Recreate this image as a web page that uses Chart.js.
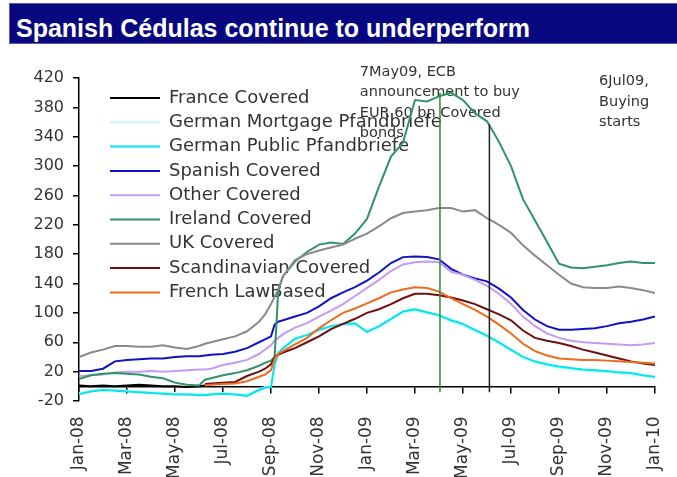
<!DOCTYPE html>
<html>
<head>
<meta charset="utf-8">
<script src="https://cdn.jsdelivr.net/npm/chart.js@4.4.1/dist/chart.umd.min.js"></script>
<style>
html,body{margin:0;padding:0;background:#fff;}
#wrap{position:relative;width:677px;height:477px;overflow:hidden;background:#fff;}
canvas{position:absolute;left:0;top:0;}
#bar{position:absolute;left:9px;top:3px;width:668px;height:41px;background:#07077f;box-sizing:border-box;border:1px solid #5b5ba8;border-right:none;}
#bar span{position:absolute;left:6px;top:10px;line-height:25px;color:#fff;font:bold 25px "Liberation Sans",Arial,sans-serif;white-space:nowrap;}
</style>
</head>
<body>
<div id="wrap">
  <canvas id="c" width="677" height="477"></canvas>
  <div id="bar"><span>Spanish Cédulas continue to underperform</span></div>
</div>
<script>
// Time positions in months since Jan-08
const months = [0,0.5,1,1.5,2,2.5,3,3.5,4,4.5,5,5.25,5.5,6,6.5,7,7.5,7.75,8,8.15,8.3,8.5,9,9.5,10,10.5,11,11.5,12,12.5,13,13.5,14,14.5,15,15.5,16,16.5,17,17.5,18,18.5,19,19.5,20,20.5,21,21.5,22,22.5,23,23.5,24];
const tickLabels = ['Jan-08','Mar-08','May-08','Jul-08','Sep-08','Nov-08','Jan-09','Mar-09','May-09','Jul-09','Sep-09','Nov-09','Jan-10'];

const N = null;
const franceCovered = [1,0,1,0,1,2,1,0,0,-1,0,1,N,N,N,N,N,N,N,N,N,N,N,N,N,N,N,N,N,N,N,N,N,N,N,N,N,N,N,N,N,N,N,N,N,N,N,N,N,N,N,N,N];
const germanMortgage = [-9,-6,-4,-5,-6,-7,-8,-9,-9,-10,-10,-10,-10,-9,-10,-11,-4,-1,0,28,43,50,63,69,76,80,83,84,76,80,90,100,103,99,95,88,83,75,67,58,48,39,32,28,25,23,21,20,19,17,16,14,12];
const germanPublic = [-11,-7,-5,-6,-7,-8,-9,-10,-11,-11,-12,-12,-11,-10,-11,-13,-5,-2,-1,30,45,52,65,70,77,82,85,86,74,82,92,102,105,101,97,90,85,77,69,60,50,40,34,30,27,25,23,22,21,19,18,15,13];
const spanishCovered = [21,21,24,34,36,37,38,38,40,41,41,42,43,44,47,52,60,64,68,84,88,90,95,100,109,120,128,135,144,155,168,176,177,176,173,160,152,147,143,133,121,104,91,82,77,77,78,79,82,86,88,91,95];
const otherCovered = [14,15,16,19,20,20,21,20,21,22,23,23,24,29,32,36,44,50,56,62,66,71,80,86,95,103,112,123,134,145,157,166,169,170,169,156,152,145,137,126,112,95,82,72,66,62,60,59,58,57,56,57,59];
const irelandCovered = [10,15,17,18,17,16,13,11,5,2,1,9,11,15,18,22,28,32,35,40,130,150,170,183,193,196,194,208,228,272,313,332,390,388,395,400,390,372,361,333,300,255,226,197,167,162,161,163,165,168,170,168,168];
const ukCovered = [40,46,50,55,55,54,54,56,53,51,55,58,60,64,68,75,88,98,112,122,132,150,172,180,185,189,193,201,208,218,229,236,238,240,243,243,238,240,229,220,209,192,178,165,152,140,135,134,134,136,134,131,127];
const scandinavianCovered = [N,N,N,N,N,N,N,N,N,N,N,3,4,5,6,14,20,24,30,40,43,46,52,60,68,78,85,92,100,105,112,120,126,126,124,121,117,112,105,98,90,76,66,62,59,55,50,46,42,38,34,31,29];
const frenchLawBased = [N,N,N,N,N,N,N,N,N,N,N,1,2,3,4,7,13,16,22,38,44,48,57,66,79,90,100,106,113,120,128,132,135,134,129,120,112,104,95,84,72,58,48,42,38,37,36,36,35,34,33,32,31];

// Event markers (months since Jan-08) and the heights the marker lines reach
const eventMonths = [15.04, 17.1];
const eventTops = [400, 357];
const eventBase = -8;

const seriesDefs = [
  {label:'France Covered', data:franceCovered, color:'#000000'},
  {label:'German Mortgage Pfandbriefe', data:germanMortgage, color:'#c2f6f6'},
  {label:'German Public Pfandbriefe', data:germanPublic, color:'#00e4ee'},
  {label:'Spanish Covered', data:spanishCovered, color:'#1212c4'},
  {label:'Other Covered', data:otherCovered, color:'#c29cf0'},
  {label:'Ireland Covered', data:irelandCovered, color:'#2f9465'},
  {label:'UK Covered', data:ukCovered, color:'#8a8a8a'},
  {label:'Scandinavian Covered', data:scandinavianCovered, color:'#6e1010'},
  {label:'French LawBased', data:frenchLawBased, color:'#ee6a1c'}
];
const eventColors = ['#2e8b3c', '#222222'];

const notes = [
  {x:11.7, y:428.5, lines:['7May09, ECB','announcement to buy','EUR 60 bn Covered','bonds']},
  {x:21.67, y:415, lines:['6Jul09,','Buying','starts']}
];

const toPts = vals => months.map((m,i)=>({x:m, y:vals[i]}));
const datasets = seriesDefs.map((s,i)=>({
  label:s.label, data:toPts(s.data), borderColor:s.color, backgroundColor:s.color,
  borderWidth:2, pointRadius:0, tension:0, spanGaps:false, order:seriesDefs.length - i
}));
eventMonths.forEach((m,i)=>{
  datasets.push({label:'', data:[{x:m,y:eventBase},{x:m,y:eventTops[i]}], borderColor:eventColors[i],
    backgroundColor:eventColors[i], borderWidth:1.5, pointRadius:0, order:0});
});

const legendPlacer = {
  id:'legendPlacer',
  afterLayout(chart){
    const lg = chart.legend, ca = chart.chartArea;
    if(!lg) return;
    lg.left = ca.left + 24.7;
    lg.top = ca.top + 4.7;
  }
};

const notePlugin = {
  id:'notes',
  beforeDatasetsDraw(chart){
    const {ctx} = chart; const xs = chart.scales.x, ys = chart.scales.y;
    ctx.save();
    ctx.fillStyle = '#333';
    ctx.font = '14.5px "DejaVu Sans"';
    ctx.textBaseline = 'middle';
    ctx.textAlign = 'left';
    notes.forEach(n=>{
      const px = xs.getPixelForValue(n.x), py = ys.getPixelForValue(n.y);
      n.lines.forEach((t,i)=>ctx.fillText(t, px, py + i*20.5));
    });
    ctx.restore();
  }
};

new Chart(document.getElementById('c'), {
  type:'line',
  data:{datasets},
  plugins:[legendPlacer, notePlugin],
  options:{
    responsive:false, animation:false, devicePixelRatio:1,
    layout:{padding:{left:0, right:22, top:78, bottom:76}},
    plugins:{
      legend:{
        position:'chartArea', align:'start',
        labels:{
          usePointStyle:true, pointStyle:'line', pointStyleWidth:50,
          font:{family:'DejaVu Sans', size:18}, color:'#333', padding:6.3,
          filter:(it)=>it.text !== '',
          sort:(a,b)=>a.datasetIndex - b.datasetIndex
        }
      },
      title:{display:false},
      tooltip:{enabled:false}
    },
    scales:{
      x:{
        type:'linear', position:{y:0}, min:0, max:24,
        ticks:{stepSize:2, autoSkip:false, minRotation:90, maxRotation:90, padding:24, color:'#333',
          font:{family:'DejaVu Sans', size:17}, callback:(v)=>tickLabels[Math.round(v/2)]},
        grid:{drawOnChartArea:false, drawTicks:true, tickLength:6, color:'#000', lineWidth:1.5},
        border:{display:true, color:'#000', width:1.5},
        afterFit(s){ s.paddingLeft = 0; s.paddingRight = 0; }
      },
      y:{
        type:'linear', min:-20, max:420,
        ticks:{stepSize:40, padding:9, color:'#333', font:{family:'DejaVu Sans', size:16}},
        grid:{drawOnChartArea:false, drawTicks:true, tickLength:6, color:'#000', lineWidth:1.5},
        border:{display:true, color:'#000', width:1.5},
        afterFit(s){ s.width = 79; s.paddingTop = 0; s.paddingBottom = 0; }
      }
    }
  }
});
</script>
</body>
</html>
